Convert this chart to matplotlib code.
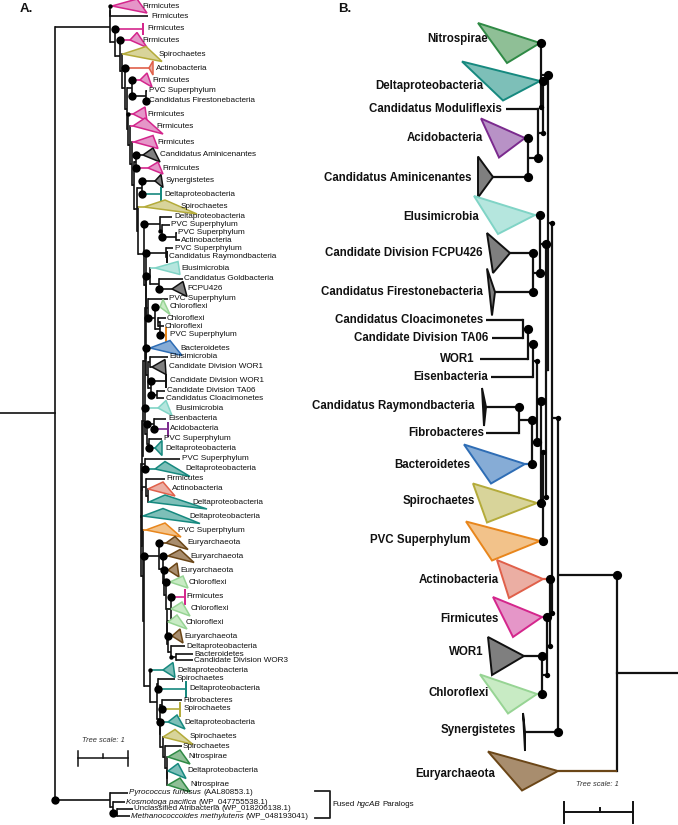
import matplotlib
matplotlib.use('Agg')
import matplotlib.pyplot as plt
from matplotlib.patches import Polygon

plt.rcParams['font.family'] = ['Liberation Sans', 'DejaVu Sans']

# ---------------- colours per clade ----------------
EDGE = {'pink': '#d4268c', 'teal': '#16897f', 'green': '#2f8a45', 'purple': '#7b2a8e',
        'gray': '#111111', 'lteal': '#80d4c6', 'blue': '#2e6db5', 'olive': '#b4ab3a',
        'orange': '#e8861c', 'salmon': '#e0604a', 'lgreen': '#97d494', 'brown': '#6b4617',
        'black': '#111111'}
FILL = {'pink': '#e596c8', 'teal': '#7dbfb8', 'green': '#8fbf96', 'purple': '#b892c6',
        'gray': '#7f7f7f', 'lteal': '#b5e6de', 'blue': '#86acd6', 'olive': '#d8d49a',
        'orange': '#f2c28a', 'salmon': '#ebaea3', 'lgreen': '#c8ebc4', 'brown': '#a88d6e',
        'black': '#111111'}

# ---------------- Panel A : leaves ----------------
a_labels = ['Firmicutes', 'Firmicutes', 'Firmicutes', 'Firmicutes', 'Spirochaetes', 'Actinobacteria',
            'Firmicutes', 'PVC Superphylum', 'Candidatus Firestonebacteria', 'Firmicutes', 'Firmicutes',
            'Firmicutes', 'Candidatus Aminicenantes', 'Firmicutes', 'Synergistetes', 'Deltaproteobacteria',
            'Spirochaetes', 'Deltaproteobacteria', 'PVC Superphylum', 'PVC Superphylum', 'Actinobacteria',
            'PVC Superphylum', 'Candidatus Raymondbacteria', 'Elusimicrobia', 'Candidatus Goldbacteria',
            'FCPU426', 'PVC Superphylum', 'Chloroflexi', 'Chloroflexi', 'Chloroflexi', 'PVC Superphylum',
            'Bacteroidetes', 'Elusimicrobia', 'Candidate Division WOR1', 'Candidate Division WOR1',
            'Candidate Division TA06', 'Candidatus Cloacimonetes', 'Elusimicrobia', 'Eisenbacteria',
            'Acidobacteria', 'PVC Superphylum', 'Deltaproteobacteria', 'PVC Superphylum',
            'Deltaproteobacteria', 'Firmicutes', 'Actinobacteria', 'Deltaproteobacteria',
            'Deltaproteobacteria', 'PVC Superphylum', 'Euryarchaeota', 'Euryarchaeota', 'Euryarchaeota',
            'Chloroflexi', 'Firmicutes', 'Chloroflexi', 'Chloroflexi', 'Euryarchaeota',
            'Deltaproteobacteria', 'Bacteroidetes', 'Candidate Division WOR3', 'Deltaproteobacteria',
            'Spirochaetes', 'Deltaproteobacteria', 'Fibrobacteres', 'Spirochaetes', 'Deltaproteobacteria',
            'Spirochaetes', 'Spirochaetes', 'Nitrospirae', 'Deltaproteobacteria', 'Nitrospirae']
a_clade = ['pink', 'black', 'pink', 'pink', 'olive', 'salmon', 'pink', 'black', 'black', 'pink', 'pink',
           'pink', 'gray', 'pink', 'gray', 'teal', 'olive', 'black', 'black', 'black', 'black', 'black',
           'black', 'lteal', 'black', 'gray', 'black', 'lgreen', 'black', 'black', 'orange', 'blue',
           'black', 'gray', 'black', 'black', 'black', 'lteal', 'black', 'purple', 'black', 'teal',
           'black', 'teal', 'black', 'salmon', 'teal', 'teal', 'orange', 'brown', 'brown', 'brown',
           'lgreen', 'pink', 'lgreen', 'lgreen', 'brown', 'black', 'black', 'black', 'teal', 'black',
           'teal', 'black', 'olive', 'teal', 'olive', 'black', 'green', 'teal', 'green']
a_y = [6, 16, 29, 40, 54, 68, 80, 91, 101, 114, 126, 142, 155, 168, 181, 194, 207, 217, 225, 233, 240,
       248, 257, 268, 279, 289, 299, 307, 318, 326, 335, 348, 357, 367, 381, 391, 398, 408, 419, 429,
       439, 448, 459, 469, 479, 489, 502, 516, 530, 543, 556, 570, 582, 597, 609, 622, 636, 646, 654,
       660, 670, 679, 689, 700, 709, 722, 737, 746, 757, 771, 785]
a_x0 = [112, 148, 143, 130, 123, 149, 140, 147, 147, 133, 133, 134, 143, 148, 155, 161, 144, 172, 170,
        177, 180, 173, 167, 155, 183, 172, 168, 160, 166, 164, 166, 150, 168, 152, 166, 165, 164, 158,
        166, 168, 162, 155, 180, 155, 165, 148, 149, 143, 146, 166, 168, 168, 170, 185, 171, 168, 172,
        185, 193, 193, 163, 175, 186, 182, 180, 168, 163, 182, 168, 168, 168]
a_xt = [137, 148, 143, 137, 146, 153, 147, 147, 147, 145, 145, 153, 153, 158, 161, 161, 165, 172, 170,
        177, 180, 173, 167, 178, 183, 183, 168, 163, 166, 164, 166, 170, 168, 165, 166, 165, 164, 166,
        166, 168, 162, 162, 180, 165, 165, 163, 165, 163, 165, 175, 180, 177, 183, 185, 182, 177, 180,
        185, 193, 193, 173, 175, 186, 182, 180, 177, 175, 182, 180, 178, 180]
a_xb = [147, 148, 143, 147, 162, 153, 152, 147, 147, 147, 163, 158, 160, 163, 163, 161, 197, 172, 170,
        177, 180, 173, 167, 180, 183, 187, 168, 170, 166, 164, 166, 182, 168, 166, 166, 165, 164, 172,
        166, 168, 162, 162, 180, 190, 165, 175, 207, 200, 181, 188, 194, 179, 188, 185, 190, 187, 183,
        185, 193, 193, 175, 175, 186, 182, 180, 185, 193, 182, 190, 186, 190]
a_h = [7, 0, 5, 7.5, 7.5, 7, 7, 0, 0, 7, 8, 6.5, 7, 6, 6.5, 6, 7, 0, 0, 0, 0, 0, 5, 6.5, 0, 7.5, 0, 7.5,
       0, 0, 7, 7.5, 0, 7.5, 6, 0, 0, 7.5, 0, 6.5, 0, 7.5, 0, 7.5, 0, 7, 7, 7.5, 7, 6.5, 6.5, 7, 6, 7,
       7, 7, 7, 0, 0, 0, 7.5, 0, 7.5, 0, 6.5, 7, 7.5, 0, 7, 7.5, 7]
a_lx = [142, 151, 147, 142, 159, 156, 152, 149, 149, 147, 156, 157, 160, 162, 166, 164, 181, 174, 171,
        178, 181, 175, 169, 181, 184, 187, 169, 170, 167, 165, 170, 180, 169, 169, 170, 167, 166, 175,
        168, 170, 164, 165, 182, 185, 166, 172, 192, 189, 178, 187, 190, 180, 189, 186, 191, 186, 184,
        186, 194, 194, 177, 177, 189, 183, 184, 184, 190, 183, 188, 187, 190]
a_dot = [1, 0, 2, 2, 0, 2, 2, 0, 2, 1, 0, 0, 2, 2, 2, 2, 0, 0, 0, 0, 0, 0, 0, 0, 0, 2, 0, 2, 0, 0, 2, 2,
         0, 0, 2, 0, 0, 2, 0, 2, 0, 2, 0, 2, 0, 0, 0, 0, 0, 2, 2, 2, 2, 2, 0, 0, 2, 0, 0, 0, 1, 0, 2,
         0, 2, 2, 0, 0, 0, 0, 0]

# outgroup (fused hgcAB paralogs): leaves 71..74
o_species = ['Pyrococcus furiosus', 'Kosmotoga pacifica', 'Unclassified Atribacteria',
             'Methanococcoides methylutens']
o_italic = [True, True, False, True]
o_acc = ['(AAL80853.1)', '(WP_047755538.1)', '(WP_018206138.1)', '(WP_048193041)']
o_y = [793, 802, 809, 816]
o_x0 = [128, 125, 133, 130]
o_dot = [0, 0, 0, 0]

# internal nodes of tree A: name -> (x, support dot, children)
a_nodes = {
    'n01': (110, 0, [0, 1]),
    'n78': (146, 2, [7, 8]),
    'n678': (132, 0, [6, 'n78']),
    'n1213': (136, 0, [12, 13]),
    'n1415': (141.5, 0, [14, 15]),
    'n1920': (176, 2, [19, 20]),
    'n1820': (162, 1, [18, 'n1920']),
    'n1720': (160, 2, [17, 'n1820']),
    'n2122': (166, 2, [21, 22]),
    'n2425': (159, 0, [24, 25]),
    'n2325': (150, 2, [23, 'n2425']),
    'n2829': (158, 0, [28, 29]),
    'n2830': (160, 0, ['n2829', 30]),
    'n2730': (155, 2, [27, 'n2830']),
    'n2630': (148, 0, [26, 'n2730']),
    'n3233': (150, 0, [32, 33]),
    'n3536': (157, 2, [35, 36]),
    'n3436': (151, 0, [34, 'n3536']),
    'n3236': (148, 0, ['n3233', 'n3436']),
    'n3136': (146, 0, [31, 'n3236']),
    'n3839': (154, 2, [38, 39]),
    'n4041': (149, 0, [40, 41]),
    'n3841': (147, 0, ['n3839', 'n4041']),
    'n3741': (145, 0, [37, 'n3841']),
    'n4243': (145, 0, [42, 43]),
    'n4546': (148, 0, [45, 46]),
    'n4446': (146, 0, [44, 'n4546']),
    'n5859': (176, 1, [58, 59]),
    'n5759': (171, 0, [57, 'n5859']),
    'n5659': (168, 0, [56, 'n5759']),
    'n5559': (167, 0, [55, 'n5659']),
    'n5459': (167, 0, [54, 'n5559']),
    'n5359': (171, 0, [53, 'n5459']),
    'n5259': (166, 0, [52, 'n5359']),
    'n5159': (164, 0, [51, 'n5259']),
    'n5059': (163, 0, [50, 'n5159']),
    'n4959': (159, 2, [49, 'n5059']),
    'n6970': (167, 0, [69, 70]),
    'n6870': (167, 0, [68, 'n6970']),
    'n6770': (165, 0, [67, 'n6870']),
    'n6670': (163, 0, [66, 'n6770']),
    'n6570': (160, 0, [65, 'n6670']),
    'n6364': (162, 0, [63, 64]),
    'n6370': (160, 0, ['n6364', 'n6570']),
    'n6162': (158, 0, [61, 62]),
    'n6170': (157, 0, ['n6162', 'n6370']),
    'n6070': (150, 0, [60, 'n6170']),
    'B22': (144, 0, ['n4959', 'n6070']),
    'B21': (143, 0, [48, 'B22']),
    'B20': (141, 0, [47, 'B21']),
    'B19': (142, 0, ['n4446', 'B20']),
    'B18': (141, 0, ['n4243', 'B19']),
    'B17': (142, 0, ['n3741', 'B18']),
    'B16': (143, 0, ['n3136', 'B17']),
    'B15': (145, 0, ['n2630', 'B16']),
    'B14': (146, 0, ['n2325', 'B15']),
    'B13': (146, 0, ['n2122', 'B14']),
    'B12': (144, 0, ['n1720', 'B13']),
    'B11': (138, 0, [16, 'B12']),
    'B10': (137, 0, ['n1415', 'B11']),
    'B9': (134, 0, ['n1213', 'B10']),
    'B8': (132, 0, [11, 'B9']),
    'B7': (130, 0, [10, 'B8']),
    'B6': (128, 0, [9, 'B7']),
    'B5': (127, 0, ['n678', 'B6']),
    'B4': (125, 0, [5, 'B5']),
    'B3': (122, 0, [4, 'B4']),
    'B2': (120, 0, [3, 'B3']),
    'B1': (115, 0, [2, 'B2']),
    'ING': (110, 0, ['n01', 'B1']),
    'o3': (117, 2, [73, 74]),
    'o2': (113, 0, [72, 'o3']),
    'OUT': (110, 2, [71, 'o2']),
    'ROOT': (55, 0, ['ING', 'OUT']),
}

# ---------------- Panel B : leaves ----------------
b_labels = ['Nitrospirae', 'Deltaproteobacteria', 'Candidatus Moduliflexis', 'Acidobacteria',
            'Candidatus Aminicenantes', 'Elusimicrobia', 'Candidate Division FCPU426',
            'Candidatus Firestonebacteria', 'Candidatus Cloacimonetes', 'Candidate Division TA06', 'WOR1',
            'Eisenbacteria', 'Candidatus Raymondbacteria', 'Fibrobacteres', 'Bacteroidetes', 'Spirochaetes',
            'PVC Superphylum', 'Actinobacteria', 'Firmicutes', 'WOR1', 'Chloroflexi', 'Synergistetes',
            'Euryarchaeota']
b_clade = ['green', 'teal', 'black', 'purple', 'gray', 'lteal', 'gray', 'gray', 'black', 'black', 'black',
           'black', 'black', 'black', 'blue', 'olive', 'orange', 'salmon', 'pink', 'gray', 'lgreen',
           'black', 'brown']
b_y = [43, 81, 109, 138, 177, 215, 253, 292, 320, 338, 359, 377, 407, 433, 464, 503, 541, 579, 617, 656,
       694, 732, 771]
b_x0 = [540, 540, 506, 525, 493, 535, 510, 495, 486, 492, 480, 491, 486, 486, 525, 537, 540, 543, 542,
        524, 537, 525, 558]
b_xt = [478, 462, 506, 481, 478, 474, 487, 487, 486, 492, 480, 491, 482, 486, 464, 473, 466, 497, 493,
        488, 480, 523, 488]
b_xb = [507, 503, 506, 499, 478, 498, 493, 492, 486, 492, 480, 491, 484, 486, 491, 487, 492, 509, 513,
        492, 508, 525, 522]
b_h = [20, 19.5, 0, 19.5, 20.5, 19, 20, 23.5, 0, 0, 0, 0, 19, 0, 19.5, 19.5, 19.5, 19, 20, 19, 19.5, 19,
       19.5]
b_lr = [488, 483, 502, 483, 472, 479, 483, 483, 483, 488, 475, 488, 475, 484, 470, 475, 470, 499, 499,
        484, 489, 516, 495]
b_ly = [39, 86, 109, 138, 178, 217, 253, 292, 320, 338, 359, 377, 406, 433, 465, 501, 540, 580, 619, 652,
        693, 730, 774]
b_dot = [2, 2, 0, 2, 2, 2, 2, 2, 0, 0, 0, 0, 2, 0, 2, 2, 2, 2, 2, 2, 2, 2, 0]

b_nodes = {
    'nAA': (528, 2, [3, 4]),
    'n1': (538, 1, [2, 'nAA']),
    'nDM': (543, 1, [1, 'n1']),
    'nTop': (541, 2, [0, 'nDM']),
    'nFF': (533, 2, [6, 7]),
    'nElus': (540, 2, [5, 'nFF']),
    'nCT': (523, 2, [8, 9]),
    'nCTW': (528, 2, ['nCT', 10]),
    'nCTWE': (533, 1, ['nCTW', 11]),
    'nRF': (519, 2, [12, 13]),
    'nRFB': (532, 2, ['nRF', 14]),
    'nCERB': (537, 2, ['nCTWE', 'nRFB']),
    'nS': (541, 1, ['nCERB', 15]),
    'nP': (543, 1, ['nS', 16]),
    'nEP': (546, 0, ['nElus', 'nP']),
    'Q1': (548, 1, ['nTop', 'nEP']),
    'nWC': (542, 1, [19, 20]),
    'nFWC': (547, 1, [18, 'nWC']),
    'nAF': (550, 1, [17, 'nFWC']),
    'Q2': (552, 1, ['Q1', 'nAF']),
    'Q3': (558, 2, ['Q2', 21]),
    'ROOT': (617, 0, ['Q3', 22]),
}

# ---------------- drawing ----------------
fig = plt.figure(figsize=(6.78, 8.25), dpi=100)
ax = fig.add_axes([0, 0, 1, 1])
ax.set_xlim(0, 678)
ax.set_ylim(825, 0)
ax.axis('off')


def draw_tree(nodes, leaf_y, leaf_x0, leaf_dot, leaf_clade, lw, big, small):
    ycache = {}

    def gy(k):
        if isinstance(k, int):
            return leaf_y[k]
        if k not in ycache:
            ch = nodes[k][2]
            ycache[k] = (gy(ch[0]) + gy(ch[-1])) / 2.0
        return ycache[k]

    def gx(k):
        return leaf_x0[k] if isinstance(k, int) else nodes[k][0]

    def gd(k):
        return leaf_dot[k] if isinstance(k, int) else nodes[k][1]

    for name, (x, _, ch) in nodes.items():
        ys = [gy(c) for c in ch]
        ax.plot([x, x], [min(ys), max(ys)], color='#111111', lw=lw, solid_capstyle='projecting', zorder=1)
        for c in ch:
            col = '#111111'
            if isinstance(c, int) and leaf_clade[c] not in ('black', 'gray'):
                col = EDGE[leaf_clade[c]]
            ax.plot([x, gx(c)], [gy(c), gy(c)], color=col, lw=lw, solid_capstyle='butt', zorder=1)
            d = gd(c)
            if d:
                ax.scatter([x], [gy(c)], s=big if d == 2 else small, color='#000000', zorder=4,
                           linewidths=0)
    return gy


def draw_clades(ys, x0s, xts, xbs, hs, clades, lw):
    for y, x0, xt, xb, h, cl in zip(ys, x0s, xts, xbs, hs, clades):
        if h <= 0:
            continue
        if abs(xt - x0) < 0.5 and abs(xb - x0) < 0.5:
            ax.plot([x0, x0], [y - h, y + h], color=EDGE[cl], lw=lw * 1.3, zorder=2)
        else:
            ax.add_patch(Polygon([(x0, y), (xt, y - h), (xb, y + h)], closed=True,
                                 facecolor=FILL[cl], edgecolor=EDGE[cl], lw=lw, zorder=2,
                                 joinstyle='miter'))


# ---- panel A ----
A_Y = a_y + o_y
A_X0 = a_x0 + o_x0
A_DOT = a_dot + o_dot
A_CL = a_clade + ['black'] * len(o_y)
gyA = draw_tree(a_nodes, A_Y, A_X0, A_DOT, A_CL, 1.2, 36, 10)
rootA_y = gyA('ROOT')
ax.plot([0, a_nodes['ROOT'][0]], [rootA_y, rootA_y], color='#111111', lw=1.2, zorder=1)
draw_clades(a_y, a_x0, a_xt, a_xb, a_h, a_clade, 1.1)
for lab, y, lx in zip(a_labels, a_y, a_lx):
    ax.text(lx, y, lab, fontsize=5.9, ha='left', va='center', color='#111111', zorder=5)

renderer = fig.canvas.get_renderer()
inv = ax.transData.inverted()


def mixed(x, y, parts, size):
    for txt, style in parts:
        t = ax.text(x, y, txt, fontsize=size, fontstyle=style, ha='left', va='center',
                    color='#111111', zorder=5)
        bb = t.get_window_extent(renderer)
        x = inv.transform((bb.x1, bb.y0))[0] + 2.2


for sp, it, acc, y, x0 in zip(o_species, o_italic, o_acc, o_y, o_x0):
    mixed(x0 + 1, y, [(sp, 'italic' if it else 'normal'), (acc, 'normal')], 5.8)

# paralog bracket
ax.plot([315, 330, 330, 315], [791, 791, 818, 818], color='#222222', lw=1.3, zorder=1)
mixed(332, 804, [('Fused', 'normal'), ('hgcAB', 'italic'), ('Paralogs', 'normal')], 5.8)

# scale bar A
ax.text(103, 741, 'Tree scale: 1', fontsize=5.4, fontstyle='italic', ha='center', va='center',
        color='#333333')
ax.plot([78, 128], [758, 758], color='#111111', lw=1.1)
ax.plot([78, 78], [751, 766], color='#111111', lw=1.1)
ax.plot([128, 128], [751, 766], color='#111111', lw=1.1)
ax.plot([103, 103], [754, 758], color='#111111', lw=1.1)

# ---- panel B ----
gyB = draw_tree(b_nodes, b_y, b_x0, b_dot, b_clade, 1.6, 44, 15)
rootB_y = gyB('ROOT')
ax.plot([b_nodes['ROOT'][0], 678], [rootB_y, rootB_y], color='#111111', lw=1.6, zorder=1)
draw_clades(b_y, b_x0, b_xt, b_xb, b_h, b_clade, 1.4)
for lab, y, lr in zip(b_labels, b_ly, b_lr):
    ax.text(lr, y, lab, fontsize=8.3, fontweight='bold', ha='right', va='center', color='#111111',
            zorder=5)

# scale bar B
ax.text(597, 784, 'Tree scale: 1', fontsize=5.4, fontstyle='italic', ha='center', va='center',
        color='#333333')
ax.plot([564, 633], [812, 812], color='#111111', lw=1.4)
ax.plot([564, 564], [802, 823], color='#111111', lw=1.4)
ax.plot([633, 633], [802, 823], color='#111111', lw=1.4)
ax.plot([600, 600], [808, 812], color='#111111', lw=1.4)

# panel letters
ax.text(20, 9, 'A.', fontsize=9.5, fontweight='bold', ha='left', va='center', color='#111111')
ax.text(338, 9, 'B.', fontsize=9.5, fontweight='bold', ha='left', va='center', color='#111111')

fig.savefig('out.png', dpi=100)
